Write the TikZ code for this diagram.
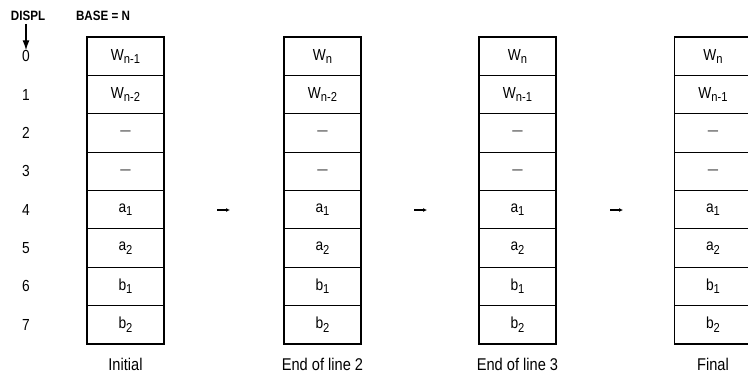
\documentclass[tikz,border=0pt]{standalone}
\usepackage{fontspec}
\setmainfont{Liberation Sans}[FakeStretch=0.86]
\usetikzlibrary{arrows.meta}
\newcommand\lowsub[1]{\raisebox{-0.4ex}{\fontsize{13}{13}\selectfont #1}}
\newcommand\emdsh{{\fontsize{12}{12}\selectfont —}}
\begin{document}
\begin{tikzpicture}[x=1pt,y=-1pt,
  cell/.style={draw,line width=1.1pt,minimum width=77pt,minimum height=38.375pt,inner sep=0pt,font=\fontsize{16}{18}\selectfont},
  rowlbl/.style={font=\fontsize{16}{18}\selectfont,inner sep=0pt},
  collbl/.style={font=\fontsize{17}{19}\selectfont,inner sep=0pt},
  hdr/.style={font=\bfseries\fontsize{13.5}{15}\selectfont,inner sep=0pt},
  step arrow/.style={line width=1.3pt,-{Latex[length=4pt,width=4pt]}}]
\useasboundingbox (0,0) rectangle (748,373);
% headers
\node[hdr] (displ) at (28,16) {DISPL};
\node[hdr] (base) at (103,16) {BASE = N};
% row labels
\foreach \i in {0,...,7}{
  \node[rowlbl] (d\i) at (26,{37+38.375*(\i+0.5)}) {\i};
}
\draw[line width=1.3pt,-{Latex[length=10pt,width=7pt]}] (displ.south) ++(-2,3) coordinate (ds) -- (ds |- d0.north) coordinate (de);
% columns
\foreach \c/\x/\wa/\wb/\lbl in {
  1/125.5/W\lowsub{n-1}/W\lowsub{n-2}/Initial,
  2/322.5/W\lowsub{n}/W\lowsub{n-2}/End of line 2,
  3/517.5/W\lowsub{n}/W\lowsub{n-1}/End of line 3,
  4/713/W\lowsub{n}/W\lowsub{n-1}/Final}{
  \node[cell] (c\c r0) at (\x,{37+38.375*0.5}) {\wa};
  \node[cell] (c\c r1) at (\x,{37+38.375*1.5}) {\wb};
  \node[cell] (c\c r2) at (\x,{37+38.375*2.5}) {\emdsh};
  \node[cell] (c\c r3) at (\x,{37+38.375*3.5}) {\emdsh};
  \node[cell] (c\c r4) at (\x,{37+38.375*4.5}) {a\lowsub{1}};
  \node[cell] (c\c r5) at (\x,{37+38.375*5.5}) {a\lowsub{2}};
  \node[cell] (c\c r6) at (\x,{37+38.375*6.5}) {b\lowsub{1}};
  \node[cell] (c\c r7) at (\x,{37+38.375*7.5}) {b\lowsub{2}};
  \node[collbl] (l\c) at (\x,364) {\lbl};
}
% step arrows
\coordinate (a1s) at (217,210); \coordinate (a1e) at (230,210);
\coordinate (a2s) at (414,210); \coordinate (a2e) at (427,210);
\coordinate (a3s) at (610,210); \coordinate (a3e) at (623,210);
\draw[step arrow] (a1s) -- (a1e);
\draw[step arrow] (a2s) -- (a2e);
\draw[step arrow] (a3s) -- (a3e);
\end{tikzpicture}
\end{document}
